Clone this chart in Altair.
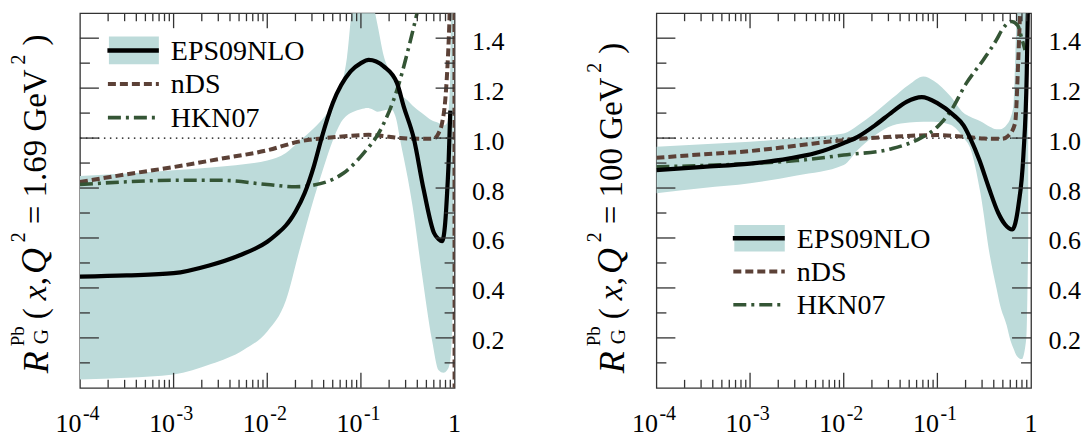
import altair as alt
import pandas as pd

# ---------------- data ----------------
# Left panel: Q^2 = 1.69 GeV^2
bandL_x = [0.0001, 0.000316, 0.001, 0.00251, 0.00562, 0.01, 0.0158, 0.0224, 0.0316, 0.0398,
           0.0501, 0.0631, 0.0708, 0.0832, 0.1, 0.1175, 0.132, 0.151, 0.175, 0.209,
           0.240, 0.263, 0.316, 0.355, 0.447, 0.575, 0.676, 0.759, 0.832, 0.891, 0.933, 0.977]
bandL_hi = [0.848, 0.858, 0.871, 0.882, 0.895, 0.91, 0.94, 0.99, 1.04, 1.08,
            1.13, 1.22, 1.32, 1.55, 1.58, 1.58, 1.55, 1.45, 1.33, 1.26,
            1.22, 1.18, 1.15, 1.13, 1.10, 1.07, 1.06, 1.05, 1.06, 1.2, 1.6, 1.6]
bandL_lo = [0.033, 0.040, 0.053, 0.095, 0.153, 0.226, 0.35, 0.56, 0.76, 0.88,
            0.99, 1.07, 1.09, 1.105, 1.115, 1.12, 1.115, 1.105, 1.11, 1.115,
            1.07, 0.99, 0.84, 0.73, 0.46, 0.19, 0.07, 0.06, 0.07, 0.1, 0.2, 0.5]

epsL_x = [0.0001, 0.000316, 0.001, 0.0024, 0.00501, 0.01, 0.0126, 0.0158, 0.0178, 0.02,
          0.0251, 0.0316, 0.038, 0.0501, 0.0776, 0.1, 0.121, 0.175, 0.243, 0.286,
          0.366, 0.468, 0.603, 0.676, 0.735, 0.794, 0.832, 0.863, 0.900]
epsL_y = [0.445, 0.45, 0.459, 0.49, 0.53, 0.585, 0.615, 0.65, 0.675, 0.705,
          0.78, 0.89, 1.0, 1.14, 1.267, 1.30, 1.313, 1.287, 1.22, 1.127,
          1.0, 0.793, 0.62, 0.595, 0.587, 0.66, 0.78, 0.9, 1.11]

ndsL_x = [0.0001, 0.000316, 0.001, 0.00316, 0.01, 0.0224, 0.0501, 0.1, 0.121, 0.2,
          0.263, 0.501, 0.597, 0.676, 0.735, 0.794, 0.832, 0.879, 0.902, 0.995, 1.0]
ndsL_y = [0.824, 0.855, 0.884, 0.917, 0.951, 0.987, 1.003, 1.012, 1.013, 1.005,
          1.0, 0.997, 0.998, 1.02, 1.06, 1.15, 1.26, 1.46, 1.6, 1.6, -0.1]

hknL_x = [0.0001, 0.000316, 0.001, 0.00316, 0.01, 0.02, 0.0316, 0.0501, 0.0655, 0.107,
          0.162, 0.243, 0.339, 0.413]
hknL_y = [0.814, 0.825, 0.831, 0.831, 0.814, 0.805, 0.812, 0.835, 0.86, 0.94,
          1.033, 1.193, 1.393, 1.527]

# Right panel: Q^2 = 100 GeV^2
bandR_x = [0.0001, 0.000316, 0.001, 0.00316, 0.01, 0.0141, 0.0214, 0.0331, 0.0501, 0.0708,
           0.0912, 0.138, 0.191, 0.224, 0.288, 0.363, 0.427, 0.468, 0.550, 0.603,
           0.646, 0.708, 0.794, 0.891, 0.933]
bandR_hi = [0.965, 0.975, 0.985, 1.0, 1.018, 1.05, 1.10, 1.16, 1.215, 1.247,
            1.23, 1.167, 1.10, 1.085, 1.067, 1.045, 1.035, 1.035, 1.053, 1.08,
            1.127, 1.5, 1.6, 1.6, 1.6]
bandR_lo = [0.779, 0.80, 0.819, 0.85, 0.892, 0.952, 1.01, 1.05, 1.062, 1.065,
            1.065, 1.053, 1.0, 0.96, 0.78, 0.53, 0.40, 0.33, 0.25, 0.19,
            0.16, 0.127, 0.115, 0.2, 0.6]

epsR_x = [0.0001, 0.000316, 0.001, 0.00257, 0.00501, 0.01, 0.0141, 0.0214, 0.0331, 0.0468,
          0.0682, 0.1, 0.151, 0.191, 0.224, 0.282, 0.355, 0.447, 0.525, 0.631,
          0.733, 0.828, 0.900, 0.933]
epsR_y = [0.872, 0.885, 0.898, 0.918, 0.94, 0.98, 1.005, 1.05, 1.105, 1.145,
          1.164, 1.14, 1.09, 1.05, 1.0, 0.91, 0.80, 0.70, 0.655, 0.634,
          0.73, 0.93, 1.26, 1.6]

ndsR_x = [0.0001, 0.000316, 0.001, 0.00316, 0.01, 0.0316, 0.1, 0.2, 0.316, 0.490,
          0.575, 0.676, 0.733, 0.762, 0.794]
ndsR_y = [0.921, 0.935, 0.948, 0.97, 0.992, 1.005, 1.012, 1.005, 0.998, 0.997,
          1.01, 1.06, 1.327, 1.49, 1.6]

hknR_x = [0.0001, 0.000316, 0.001, 0.00316, 0.01, 0.0331, 0.0661, 0.1, 0.138, 0.204,
          0.309, 0.427, 0.490, 0.622, 0.724, 0.794, 0.863]
hknR_y = [0.885, 0.89, 0.898, 0.91, 0.932, 0.958, 1.0, 1.045, 1.107, 1.22,
          1.313, 1.393, 1.433, 1.467, 1.45, 1.4, 1.353]

# axis ticks / labels
x_label_pos = [1e-4, 1e-3, 1e-2, 1e-1]
x_label_base = ["10", "10", "10", "10"]
x_label_exp = ["-4", "-3", "-2", "-1"]
x_major_ticks = [1e-3, 1e-2, 1e-1]
x_minor_ticks = [m * d for d in [1e-4, 1e-3, 1e-2, 1e-1] for m in range(2, 10)]
y_major_ticks = [0.2, 0.4, 0.6, 0.8, 1.0, 1.2, 1.4]
y_minor_ticks = [0.1, 0.3, 0.5, 0.7, 0.9, 1.1, 1.3]
y_labels = [0.2, 0.4, 0.6, 0.8, 1.0, 1.2, 1.4]

series_names = ["EPS09NLO", "nDS", "HKN07"]

# ---------------- styling ----------------
FONT = "Liberation Serif"
TEAL = "#bddbda"
BROWN = "#5c4137"
GREEN = "#345535"
INK = "#333333"
W = H = 375

xs = alt.Scale(type="log", domain=[1e-4, 1], nice=False)
ys = alt.Scale(domain=[0, 1.5], nice=False, zero=False)
yaxis = alt.Axis(orient="right", values=y_labels, format=".1f", ticks=False,
                 domain=False, grid=False, labelFont=FONT, labelFontSize=26,
                 labelColor="black", labelPadding=17, labelOffset=3, title=None)


def X(f):
    return alt.X(f"{f}:Q", scale=xs, axis=None)


def Y(f):
    return alt.Y(f"{f}:Q", scale=ys, axis=yaxis)


def vtext(txt, x, y, size, italic=False, angle=0, align="left"):
    kw = dict(text=txt, font=FONT, fontSize=size, align=align,
              baseline="alphabetic", color="black")
    if italic:
        kw["fontStyle"] = "italic"
    if angle:
        kw["angle"] = angle
    return alt.Chart().mark_text(**kw).encode(x=alt.value(x), y=alt.value(y))


def vrule(x1, x2, y, color, width, dash=None):
    kw = dict(color=color, strokeWidth=width)
    if dash:
        kw["strokeDash"] = dash
    return alt.Chart().mark_rule(**kw).encode(
        x=alt.value(x1), x2=alt.value(x2), y=alt.value(y))


def panel(bx, blo, bhi, ex, ey, nx, ny, hx, hy, q2text, title_ys, leg):
    band = alt.Chart(pd.DataFrame({"x": bx, "lo": blo, "hi": bhi})).mark_area(
        color=TEAL, interpolate="monotone", clip=True
    ).encode(x=X("x"), y=Y("lo"), y2="hi:Q")

    dotted = alt.Chart(pd.DataFrame({"x": [1e-4, 1.0], "y": [1.0, 1.0]})).mark_line(
        color="black", strokeWidth=1.2, strokeDash=[1.5, 4.5], clip=True
    ).encode(x=X("x"), y=Y("y"))

    nds = alt.Chart(pd.DataFrame({"x": nx, "y": ny})).mark_line(
        color=BROWN, strokeWidth=4, strokeDash=[8, 4], interpolate="monotone", clip=True
    ).encode(x=X("x"), y=Y("y"))

    hkn = alt.Chart(pd.DataFrame({"x": hx, "y": hy})).mark_line(
        color=GREEN, strokeWidth=3.6, strokeDash=[13, 5, 3, 5], interpolate="monotone", clip=True
    ).encode(x=X("x"), y=Y("y"))

    eps = alt.Chart(pd.DataFrame({"x": ex, "y": ey})).mark_line(
        color="black", strokeWidth=4.2, interpolate="monotone", clip=True
    ).encode(x=X("x"), y=Y("y"))

    # inward ticks
    ymaj = pd.DataFrame({"v": y_major_ticks})
    ymin = pd.DataFrame({"v": y_minor_ticks})
    xmaj = pd.DataFrame({"v": x_major_ticks})
    xmin = pd.DataFrame({"v": x_minor_ticks})
    tk = dict(color=INK, strokeWidth=1.3)
    ticks = [
        alt.Chart(ymaj).mark_rule(**tk).encode(y=Y("v"), x=alt.value(0), x2=alt.value(19)),
        alt.Chart(ymin).mark_rule(**tk).encode(y=Y("v"), x=alt.value(0), x2=alt.value(10)),
        alt.Chart(ymaj).mark_rule(**tk).encode(y=Y("v"), x=alt.value(W - 19), x2=alt.value(W)),
        alt.Chart(ymin).mark_rule(**tk).encode(y=Y("v"), x=alt.value(W - 10), x2=alt.value(W)),
        alt.Chart(xmaj).mark_rule(**tk).encode(x=X("v"), y=alt.value(0), y2=alt.value(15)),
        alt.Chart(xmin).mark_rule(**tk).encode(x=X("v"), y=alt.value(0), y2=alt.value(8)),
        alt.Chart(xmaj).mark_rule(**tk).encode(x=X("v"), y=alt.value(H - 15), y2=alt.value(H)),
        alt.Chart(xmin).mark_rule(**tk).encode(x=X("v"), y=alt.value(H - 8), y2=alt.value(H)),
    ]

    # x labels 10^-n and 1
    xl = pd.DataFrame({"x": x_label_pos, "t": x_label_base, "s": x_label_exp})
    xlabels = [
        alt.Chart(xl).mark_text(font=FONT, fontSize=26, align="right", baseline="alphabetic",
                                dx=1.5, color="black").encode(x=X("x"), y=alt.value(419.5), text="t:N"),
        alt.Chart(xl).mark_text(font=FONT, fontSize=20, align="left", baseline="alphabetic",
                                dx=3, color="black").encode(x=X("x"), y=alt.value(407.5), text="s:N"),
        alt.Chart(pd.DataFrame({"x": [1.0], "t": ["1"]})).mark_text(
            font=FONT, fontSize=26, align="center", baseline="alphabetic", color="black"
        ).encode(x=X("x"), y=alt.value(419.5), text="t:N"),
    ]

    # y title R_G^Pb (x, Q^2 = ... GeV^2)
    ty = title_ys
    title = [
        vtext("R", -32.3, 360.3, 36, italic=True, angle=270),
        vtext("Pb", -56.0, 333.3, 19, angle=270),
        vtext("G", -31.8, 331.3, 21, angle=270),
        vtext("(", -34.3, 306.3, 33, angle=270),
        vtext("x", -34.3, 287.3, 33, italic=True, angle=270),
        vtext(",", -34.3, 272.3, 33, angle=270),
        vtext("Q", -34.3, 261.0, 36, italic=True, angle=270),
        vtext("2", -55.3, 229.3, 20, angle=270),
        vtext(q2text, -34.3, 211.3, 33, angle=270),
        vtext("2", -55.3, ty[0], 20, angle=270),
        vtext(")", -34.3, ty[1], 33, angle=270),
    ]

    # legend
    bx0, bx1, by0, by1, ly0, tx, dy = leg
    legend = [
        alt.Chart().mark_rect(color=TEAL).encode(
            x=alt.value(bx0), x2=alt.value(bx1), y=alt.value(by0), y2=alt.value(by1)),
        vrule(bx0 - 1.5, bx1, ly0, "black", 4.6),
        vrule(bx0 - 1, bx1, ly0 + dy, BROWN, 4, [8, 4]),
        vrule(bx0 - 1, bx1, ly0 + 2 * dy, GREEN, 3.6, [13, 5, 3, 5]),
        vtext(series_names[0], tx, ly0 + 9.3, 28),
        vtext(series_names[1], tx, ly0 + 9.3 + dy, 28),
        vtext(series_names[2], tx, ly0 + 9.3 + 2 * dy, 28),
    ]

    return alt.layer(band, dotted, nds, hkn, eps, *ticks, *xlabels, *title, *legend).properties(
        width=W, height=H)


left = panel(bandL_x, bandL_lo, bandL_hi, epsL_x, epsL_y, ndsL_x, ndsL_y, hknL_x, hknL_y,
             "= 1.69 GeV", (51.3, 32.3), (29, 79, 23.3, 51, 37.3, 91, 33.6))
right = panel(bandR_x, bandR_lo, bandR_hi, epsR_x, epsR_y, ndsR_x, ndsR_y, hknR_x, hknR_y,
              "= 100 GeV", (59.5, 40.5), (78, 128.5, 212, 238.6, 225.3, 140.6, 33.3))

chart = alt.hconcat(left, right, spacing=202, bounds="flush").properties(
    padding={"left": 0, "top": 3, "right": 0, "bottom": 0}
).configure_view(stroke=INK, strokeWidth=1.3)

chart.save("out.html", embed_options={"renderer": "svg", "actions": False})
